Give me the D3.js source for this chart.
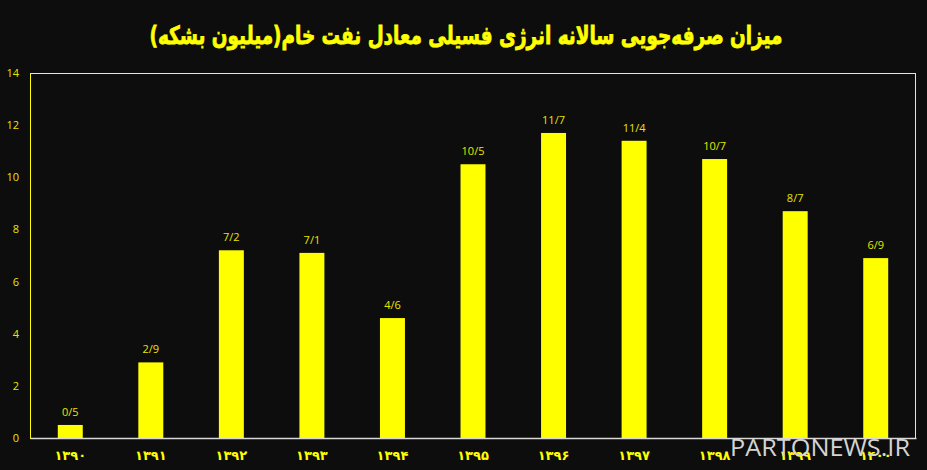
<!DOCTYPE html>
<html>
<head>
<meta charset="utf-8">
<script src="https://cdn.jsdelivr.net/npm/d3@7"></script>
<style>
  body { margin: 0; background: #0d0d0d; }
  svg { display: block; }
</style>
</head>
<body>
<div id="chart"></div>
<script>
var width = 927;
var height = 470;
var margin = ({top: 73, right: 11, bottom: 32, left: 30});

var years = ["۱۳۹۰", "۱۳۹۱", "۱۳۹۲", "۱۳۹۳", "۱۳۹۴", "۱۳۹۵", "۱۳۹۶", "۱۳۹۷", "۱۳۹۸", "۱۳۹۹", "۱۴۰۰"];
var values = [0.5, 2.9, 7.2, 7.1, 4.6, 10.5, 11.7, 11.4, 10.7, 8.7, 6.9];
var labels = ["0/5", "2/9", "7/2", "7/1", "4/6", "10/5", "11/7", "11/4", "10/7", "8/7", "6/9"];
var yTicks = [0, 2, 4, 6, 8, 10, 12, 14];
var title = "میزان صرفه‌جویی سالانه انرژی فسیلی معادل نفت خام(میلیون بشکه)";

var data = years.map((y, i) => ({year: y, value: values[i], label: labels[i]}));

var x = d3.scaleBand()
    .domain(years)
    .range([margin.left, width - margin.right])
    .paddingInner(0.69)
    .paddingOuter(0.345);

var y = d3.scaleLinear()
    .domain([0, 14])
    .range([height - margin.bottom, margin.top]);

const svg = d3.select("#chart").append("svg")
    .attr("width", width)
    .attr("height", height)
    .style("background", "#0d0d0d");

// frame
svg.append("rect")
    .attr("x", margin.left + 0.5)
    .attr("y", margin.top + 0.5)
    .attr("width", width - margin.left - margin.right - 1)
    .attr("height", height - margin.top - margin.bottom)
    .attr("fill", "none")
    .attr("stroke", "#ffff00")
    .attr("stroke-width", 1);

// bars
svg.append("g")
    .attr("fill", "#ffff00")
  .selectAll("rect")
  .data(data)
  .join("rect")
    .attr("x", d => x(d.year))
    .attr("y", d => y(d.value))
    .attr("width", x.bandwidth())
    .attr("height", d => y(0) - y(d.value));

// value labels
svg.append("g")
    .attr("fill", "#e6e600")
    .attr("font-family", "Open Sans, sans-serif")
    .attr("font-size", 11)
    .attr("text-anchor", "middle")
  .selectAll("text")
  .data(data)
  .join("text")
    .attr("x", d => x(d.year) + x.bandwidth() / 2)
    .attr("y", d => y(d.value) - 9)
    .text(d => d.label);

// x axis
const xAxis = g => g
    .attr("transform", `translate(0,${height - margin.bottom})`)
    .call(d3.axisBottom(x).tickSize(0).tickPadding(13))
    .call(g => g.select(".domain").attr("stroke", "#d9d9d9").attr("stroke-width", 1.5))
    .call(g => g.selectAll("text")
        .attr("fill", "#ffff00")
        .attr("font-family", "DejaVu Sans, sans-serif")
        .attr("font-weight", "bold")
        .attr("font-size", 13));

// y axis
const yAxis = g => g
    .attr("transform", `translate(${margin.left},0)`)
    .call(d3.axisLeft(y).tickValues(yTicks).tickSize(0).tickPadding(11))
    .call(g => g.select(".domain").remove())
    .call(g => g.selectAll("text")
        .attr("fill", "#e6e600")
        .attr("font-family", "Open Sans, sans-serif")
        .attr("font-size", 11));

svg.append("g").call(xAxis);
svg.append("g").call(yAxis);

// title
svg.append("text")
    .attr("x", 466)
    .attr("y", 44)
    .attr("text-anchor", "middle")
    .attr("fill", "#ffff00")
    .attr("stroke", "#ffff00")
    .attr("stroke-width", 0.8)
    .attr("font-family", "DejaVu Sans, sans-serif")
    .attr("font-weight", "bold")
    .attr("font-size", 25)
    .attr("direction", "rtl")
    .attr("textLength", 633)
    .attr("lengthAdjust", "spacingAndGlyphs")
    .text(title);

// watermark
svg.append("text")
    .attr("x", 730)
    .attr("y", 456)
    .attr("fill", "#d4d4d4")
    .attr("font-family", "Open Sans, sans-serif")
    .attr("font-size", 24)
    .attr("textLength", 180)
    .attr("lengthAdjust", "spacingAndGlyphs")
    .text("PARTONEWS.IR");
</script>
</body>
</html>
